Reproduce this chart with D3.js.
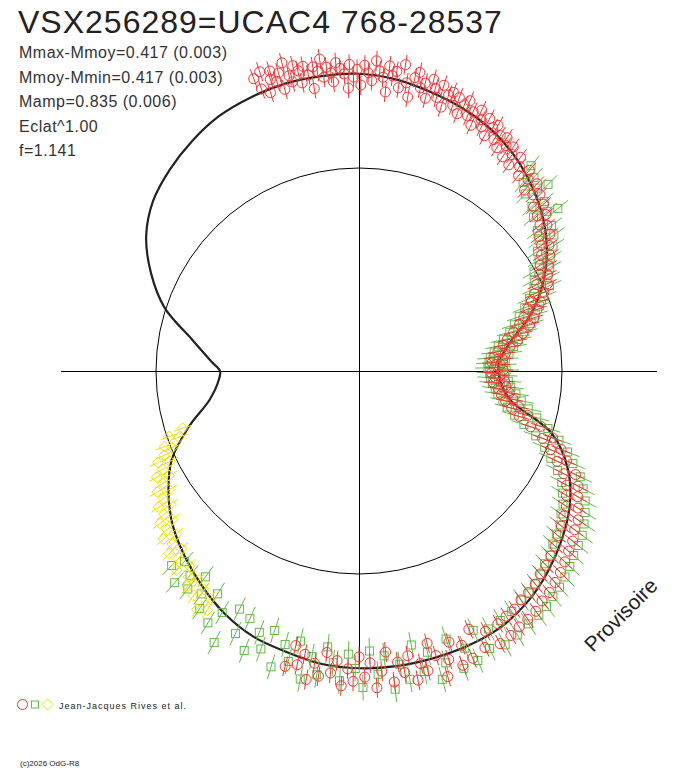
<!DOCTYPE html>
<html>
<head>
<meta charset="utf-8">
<script src="https://cdn.jsdelivr.net/npm/d3@7"></script>
<style>
  body { margin: 0; background: #fff; }
  svg { display: block; }
</style>
</head>
<body>
<div id="app"></div>
<script>
// chart texts
const title = 'VSX256289=UCAC4 768-28537'
const statLines = ['Mmax-Mmoy=0.417 (0.003)', 'Mmoy-Mmin=0.417 (0.003)', 'Mamp=0.835 (0.006)', 'Eclat^1.00', 'f=1.141']
const legendText = 'Jean-Jacques Rives et al.'
const footer = '(c)2026 OdG-R8'
const stamp = 'Provisoire'

// Mmax - Mmoy (brightest offset, mag)
const ampBright = 0.417

// fitted light curve: phase (0..1) and magnitude minus Mmoy
const fitPhase = [0, .02, .04, .06, .08, .10, .12, .14, .16, .18, .20, .22, .24, .25, .26, .28, .30, .32, .34, .36, .38, .40, .42, .44, .46, .48,
  .50, .52, .54, .56, .58, .60, .62, .64, .66, .68, .70, .72, .74, .75, .76, .78, .80, .82, .84, .86, .88, .90, .92, .94, .96, .98]
const fitMag = [-0.414, -0.402, -0.380, -0.358, -0.330, -0.290, -0.238, -0.178, -0.100, 0.000, 0.130, 0.300, 0.400, 0.409, 0.395, 0.300,
  0.000, -0.140, -0.225, -0.283, -0.332, -0.372, -0.398, -0.408, -0.412, -0.415,
  -0.414, -0.407, -0.388, -0.372, -0.340, -0.295, -0.245, -0.190, -0.115, -0.020, 0.140, 0.315, 0.400, 0.411, 0.345, 0.190,
  -0.007, -0.135, -0.235, -0.298, -0.335, -0.365, -0.390, -0.403, -0.412, -0.414]

// observations [phase, mag - Mmoy]
const obsRed = [
  [0.945,-0.462],[0.947,-0.418],[0.949,-0.478],[0.951,-0.395],[0.953,-0.441],[0.954,-0.470],[0.956,-0.428],[0.958,-0.455],[0.959,-0.392],
  [0.961,-0.486],[0.963,-0.436],[0.964,-0.412],[0.966,-0.468],[0.968,-0.447],[0.969,-0.401],[0.971,-0.459],[0.973,-0.425],[0.975,-0.372],
  [0.976,-0.451],[0.978,-0.433],[0.980,-0.475],[0.981,-0.409],[0.983,-0.444],[0.985,-0.422],[0.986,-0.388],[0.988,-0.457],[0.990,-0.436],
  [0.992,-0.415],[0.994,-0.361],[0.995,-0.448],[0.997,-0.402],[0.999,-0.430],
  [0.001,-0.372],[0.003,-0.445],[0.005,-0.418],[0.007,-0.390],[0.009,-0.462],[0.011,-0.427],[0.013,-0.405],[0.015,-0.350],[0.016,-0.448],
  [0.018,-0.413],[0.020,-0.431],[0.022,-0.372],[0.024,-0.459],[0.026,-0.395],[0.028,-0.342],[0.030,-0.419],[0.032,-0.441],[0.034,-0.386],
  [0.036,-0.407],[0.038,-0.352],[0.040,-0.428],[0.042,-0.398],[0.044,-0.366],[0.046,-0.417],[0.048,-0.335],[0.050,-0.388],[0.052,-0.403],
  [0.054,-0.356],[0.056,-0.392],[0.058,-0.331],[0.060,-0.373],
  [0.062,-0.395],[0.064,-0.338],[0.066,-0.362],[0.068,-0.310],[0.070,-0.381],[0.072,-0.347],[0.074,-0.322],[0.076,-0.366],[0.078,-0.296],
  [0.080,-0.340],[0.082,-0.358],[0.084,-0.301],[0.086,-0.328],[0.088,-0.279],[0.090,-0.335],[0.092,-0.306],[0.094,-0.260],[0.096,-0.318],
  [0.098,-0.290],[0.100,-0.247],[0.103,-0.301],[0.106,-0.268],[0.109,-0.236],[0.112,-0.282],[0.115,-0.250],[0.118,-0.205],
  [0.121,-0.262],[0.124,-0.215],[0.127,-0.238],[0.130,-0.180],[0.133,-0.221],[0.136,-0.165],[0.139,-0.198],[0.142,-0.147],[0.145,-0.172],
  [0.148,-0.110],[0.151,-0.158],[0.154,-0.096],[0.157,-0.125],[0.160,-0.068],[0.163,-0.104],[0.166,-0.035],[0.169,-0.071],[0.172,-0.010],
  [0.175,-0.046],[0.178,0.030],
  [0.181,-0.025],[0.184,0.061],[0.186,0.012],[0.189,0.095],[0.192,0.048],[0.194,0.130],[0.197,0.082],[0.200,0.171],[0.203,0.115],
  [0.205,0.210],[0.208,0.152],[0.211,0.262],[0.214,0.205],[0.217,0.318],[0.220,0.251],[0.222,0.355],[0.225,0.310],[0.228,0.402],
  [0.231,0.348],[0.234,0.438],[0.237,0.372],[0.240,0.455],[0.243,0.391],[0.246,0.440],[0.249,0.372],[0.252,0.462],[0.255,0.395],
  [0.258,0.430],[0.261,0.358],[0.264,0.441],[0.267,0.345],[0.270,0.402],[0.273,0.315],[0.276,0.371],[0.279,0.281],[0.282,0.332],
  [0.285,0.236],[0.288,0.278],[0.291,0.165],[0.294,0.215],[0.297,0.072],[0.300,0.128],[0.303,-0.010],[0.306,0.041],[0.309,-0.072],
  [0.312,-0.021],[0.315,-0.118],[0.318,-0.076],
  [0.321,-0.182],[0.324,-0.131],[0.327,-0.215],[0.330,-0.168],[0.333,-0.236],[0.336,-0.190],[0.339,-0.262],[0.342,-0.215],[0.345,-0.289],
  [0.348,-0.230],[0.351,-0.301],[0.354,-0.248],[0.357,-0.322],[0.360,-0.262],[0.363,-0.335],[0.366,-0.281],[0.369,-0.352],[0.372,-0.295],
  [0.375,-0.368],[0.378,-0.309],[0.381,-0.381],[0.384,-0.318],[0.387,-0.395],[0.390,-0.336],[0.393,-0.402],[0.396,-0.345],[0.399,-0.418],
  [0.402,-0.351],[0.405,-0.425],[0.408,-0.366],[0.411,-0.431],[0.414,-0.372],[0.417,-0.442],[0.420,-0.381],[0.424,-0.449],[0.428,-0.385],
  [0.432,-0.438],[0.436,-0.352],[0.440,-0.456],
  [0.443,-0.398],[0.446,-0.467],[0.449,-0.371],[0.452,-0.432],[0.455,-0.488],[0.458,-0.405],[0.461,-0.352],[0.464,-0.451],[0.467,-0.420],
  [0.470,-0.476],[0.473,-0.383],[0.476,-0.442],[0.479,-0.401],[0.482,-0.470],[0.485,-0.358],[0.488,-0.428],[0.491,-0.485],[0.494,-0.395],
  [0.497,-0.446],[0.500,-0.372],[0.503,-0.461],[0.506,-0.417],[0.509,-0.478],[0.512,-0.389],[0.515,-0.436],[0.518,-0.362],[0.521,-0.452],
  [0.524,-0.408],[0.527,-0.470],[0.530,-0.381],[0.533,-0.425],[0.536,-0.356],[0.539,-0.440]
]
const obsGreen = [
  [0.111,-0.301],[0.114,-0.226],[0.117,-0.272],[0.120,-0.195],[0.123,-0.250],[0.126,-0.292],[0.129,-0.176],[0.132,-0.230],[0.135,-0.148],
  [0.138,-0.212],[0.141,-0.255],[0.144,-0.121],[0.147,-0.188],[0.150,-0.100],[0.153,-0.171],[0.156,-0.062],[0.159,-0.139],[0.162,-0.045],
  [0.165,-0.098],[0.168,0.010],[0.171,-0.072],[0.174,0.031],[0.177,-0.040],
  [0.180,0.052],[0.183,-0.030],[0.186,0.098],[0.189,0.021],[0.192,0.146],[0.195,0.062],[0.198,0.198],[0.201,0.101],[0.204,0.245],
  [0.207,0.139],[0.210,0.288],[0.213,0.190],[0.216,0.345],[0.219,0.241],[0.222,0.392],[0.225,0.282],[0.228,0.431],[0.231,0.321],
  [0.234,0.468],[0.237,0.352],[0.240,0.481],[0.243,0.368],[0.246,0.492],[0.249,0.350],[0.252,0.478],[0.255,0.362],[0.258,0.471],
  [0.261,0.331],[0.264,0.452],[0.267,0.310],[0.270,0.425],[0.273,0.268],[0.276,0.398],[0.279,0.225],[0.282,0.352],[0.285,0.171],
  [0.288,0.310],[0.291,0.108],[0.294,0.248],[0.297,0.030],[0.300,0.171],[0.303,-0.045],[0.306,0.082],[0.309,-0.105],[0.312,0.012],
  [0.315,-0.150],[0.318,-0.041],
  [0.321,-0.205],[0.324,-0.098],[0.327,-0.240],[0.330,-0.142],[0.333,-0.272],[0.336,-0.170],[0.339,-0.296],[0.342,-0.198],[0.345,-0.318],
  [0.348,-0.215],[0.351,-0.338],[0.354,-0.240],[0.357,-0.350],[0.360,-0.252],[0.363,-0.361],[0.366,-0.268],[0.369,-0.378],[0.372,-0.291],
  [0.375,-0.392],[0.378,-0.300],[0.381,-0.405],[0.384,-0.322],[0.387,-0.415],[0.390,-0.335],[0.393,-0.428],[0.396,-0.348],[0.399,-0.436],
  [0.402,-0.352],[0.406,-0.440],[0.410,-0.368],[0.414,-0.452],[0.418,-0.375],[0.422,-0.461],[0.426,-0.382],[0.430,-0.448],[0.434,-0.362],
  [0.438,-0.470],
  [0.442,-0.412],[0.446,-0.478],[0.450,-0.356],[0.454,-0.440],[0.458,-0.492],[0.462,-0.385],[0.466,-0.451],[0.470,-0.345],[0.474,-0.468],
  [0.478,-0.410],[0.482,-0.495],[0.486,-0.372],[0.490,-0.438],[0.494,-0.350],[0.498,-0.482],[0.502,-0.415],[0.506,-0.362],[0.510,-0.461],
  [0.514,-0.398],[0.518,-0.340],[0.522,-0.448],[0.526,-0.385],[0.530,-0.472],[0.534,-0.335],[0.538,-0.420],[0.542,-0.362],[0.546,-0.455],
  [0.550,-0.321],[0.554,-0.405],[0.558,-0.348],
  [0.562,-0.432],[0.566,-0.312],[0.570,-0.388],[0.574,-0.295],[0.578,-0.452],[0.582,-0.340],[0.586,-0.401],[0.590,-0.285],[0.594,-0.372],
  [0.598,-0.322],[0.602,-0.255],[0.606,-0.338],[0.610,-0.290],[0.614,-0.352],[0.618,-0.262],[0.622,-0.310]
]
const obsYellow = [
  [0.590,-0.362],[0.592,-0.318],[0.595,-0.380],[0.598,-0.301],[0.601,-0.345],[0.604,-0.282],[0.607,-0.331],[0.610,-0.298],[0.614,-0.262],
  [0.618,-0.310],[0.622,-0.270],[0.625,-0.232],[0.628,-0.282],[0.631,-0.245],[0.634,-0.205],[0.637,-0.260],[0.640,-0.222],[0.643,-0.175],
  [0.646,-0.228],[0.649,-0.190],[0.652,-0.140],[0.655,-0.192],[0.658,-0.152],[0.661,-0.105],[0.664,-0.160],[0.667,-0.118],[0.670,-0.072],
  [0.673,-0.128],[0.676,-0.085],[0.679,-0.035],[0.682,-0.092],[0.685,-0.048],[0.688,0.005],[0.691,-0.030],[0.694,0.062],[0.697,0.012],
  [0.700,0.098]
]

const width = 688, height = 768
const cx = 359, cy = 371
const R0 = 203 // radius of the mean-magnitude circle

const svg = d3.select('#app').append('svg')
  .attr('width', width).attr('height', height)
  .attr('viewBox', [0, 0, width, height])
svg.append('rect').attr('width', width).attr('height', height).attr('fill', '#fff')

// phase -> angle (0 at top, clockwise), magnitude -> flux -> radius
const angle = d3.scaleLinear().domain([0, 1]).range([0, 2 * Math.PI])
const flux = (m) => Math.pow(10, -0.4 * m)
const rScale = d3.scaleLinear().domain([0, 1]).range([0, R0])
const radius = (m) => rScale(flux(m))

const plot = svg.append('g').attr('transform', `translate(${cx},${cy})`)

// axes and reference circle
const axisLen = radius(-ampBright)
plot.append('line').attr('x1', -axisLen).attr('x2', axisLen).attr('y1', 0).attr('y2', 0)
  .attr('stroke', '#000').attr('shape-rendering', 'crispEdges')
plot.append('line').attr('y1', -axisLen).attr('y2', axisLen).attr('x1', 0).attr('x2', 0)
  .attr('stroke', '#000').attr('shape-rendering', 'crispEdges')
plot.append('circle').attr('r', radius(0)).attr('fill', 'none').attr('stroke', '#000').attr('stroke-width', 1)

// fitted curve
const fit = fitPhase.map((p, i) => [p, fitMag[i]])
const line = d3.lineRadial()
  .angle((d) => angle(d[0]))
  .radius((d) => radius(d[1]))
  .curve(d3.curveCatmullRomClosed)
plot.append('path').datum(fit).attr('d', line)
  .attr('fill', 'none').attr('stroke', '#222').attr('stroke-width', 2.2)

// marker shapes
const shapes = {
  circle: (g, c) => g.append('circle').attr('r', 5).attr('fill', 'none').attr('stroke', c),
  square: (g, c) => g.append('rect').attr('x', -4).attr('y', -4).attr('width', 8).attr('height', 8).attr('fill', 'none').attr('stroke', c),
  diamond: (g, c) => g.append('path').attr('d', 'M0,-5.5L5.5,0L0,5.5L-5.5,0Z').attr('fill', 'none').attr('stroke', c)
}

const series = [
  { data: obsGreen, color: '#62bb44', shape: 'square', bar: 13 },
  { data: obsRed, color: '#f03535', shape: 'circle', bar: 10 },
  { data: obsYellow, color: '#f2e000', shape: 'diamond', bar: 9 }
]

series.forEach((s) => {
  const g = plot.append('g').selectAll('g').data(s.data).join('g')
    .attr('transform', (d) => {
      const [x, y] = d3.pointRadial(angle(d[0]), radius(d[1]))
      return `translate(${x},${y})`
    })
  // radial error bar
  g.append('line')
    .attr('x1', (d) => -Math.sin(angle(d[0])) * s.bar)
    .attr('y1', (d) => Math.cos(angle(d[0])) * s.bar)
    .attr('x2', (d) => Math.sin(angle(d[0])) * s.bar)
    .attr('y2', (d) => -Math.cos(angle(d[0])) * s.bar)
    .attr('stroke', s.color).attr('stroke-width', 1)
  shapes[s.shape](g, s.color)
})

// title and stats
svg.append('text').attr('x', 18).attr('y', 33).text(title)
  .attr('font-family', 'Liberation Sans, Arial, sans-serif').attr('font-size', 32)
  .attr('letter-spacing', 1).attr('fill', '#222')

svg.append('g').selectAll('text').data(statLines).join('text')
  .attr('x', 19).attr('y', (d, i) => 58 + i * 24.5).text((d) => d)
  .attr('font-family', 'Liberation Sans, Arial, sans-serif').attr('font-size', 16)
  .attr('letter-spacing', 0.5).attr('fill', '#333')

// legend
const legendOrder = ['circle', 'square', 'diamond']
const leg = svg.append('g').attr('transform', 'translate(0,704.5)')
legendOrder.forEach((shape, i) => {
  const s = series.find((d) => d.shape === shape)
  const g = leg.append('g').attr('transform', `translate(${22.5 + i * 12.5},0)`)
  if (shape === 'square') g.append('rect').attr('x', -3.5).attr('y', -3.5).attr('width', 7).attr('height', 7).attr('fill', 'none').attr('stroke', s.color)
  else shapes[shape](g, s.color)
})
leg.append('text').attr('x', 59).attr('y', 4.5).text(legendText)
  .attr('font-family', 'Liberation Sans, Arial, sans-serif').attr('font-size', 9)
  .attr('letter-spacing', 1).attr('fill', '#222')

svg.append('text').attr('x', 20).attr('y', 766).text(footer)
  .attr('font-family', 'Liberation Sans, Arial, sans-serif').attr('font-size', 8).attr('fill', '#222')

svg.append('text').attr('transform', 'translate(626,620) rotate(-45)')
  .attr('text-anchor', 'middle').text(stamp)
  .attr('font-family', 'Liberation Sans, Arial, sans-serif').attr('font-size', 21).attr('fill', '#222')
</script>
</body>
</html>
